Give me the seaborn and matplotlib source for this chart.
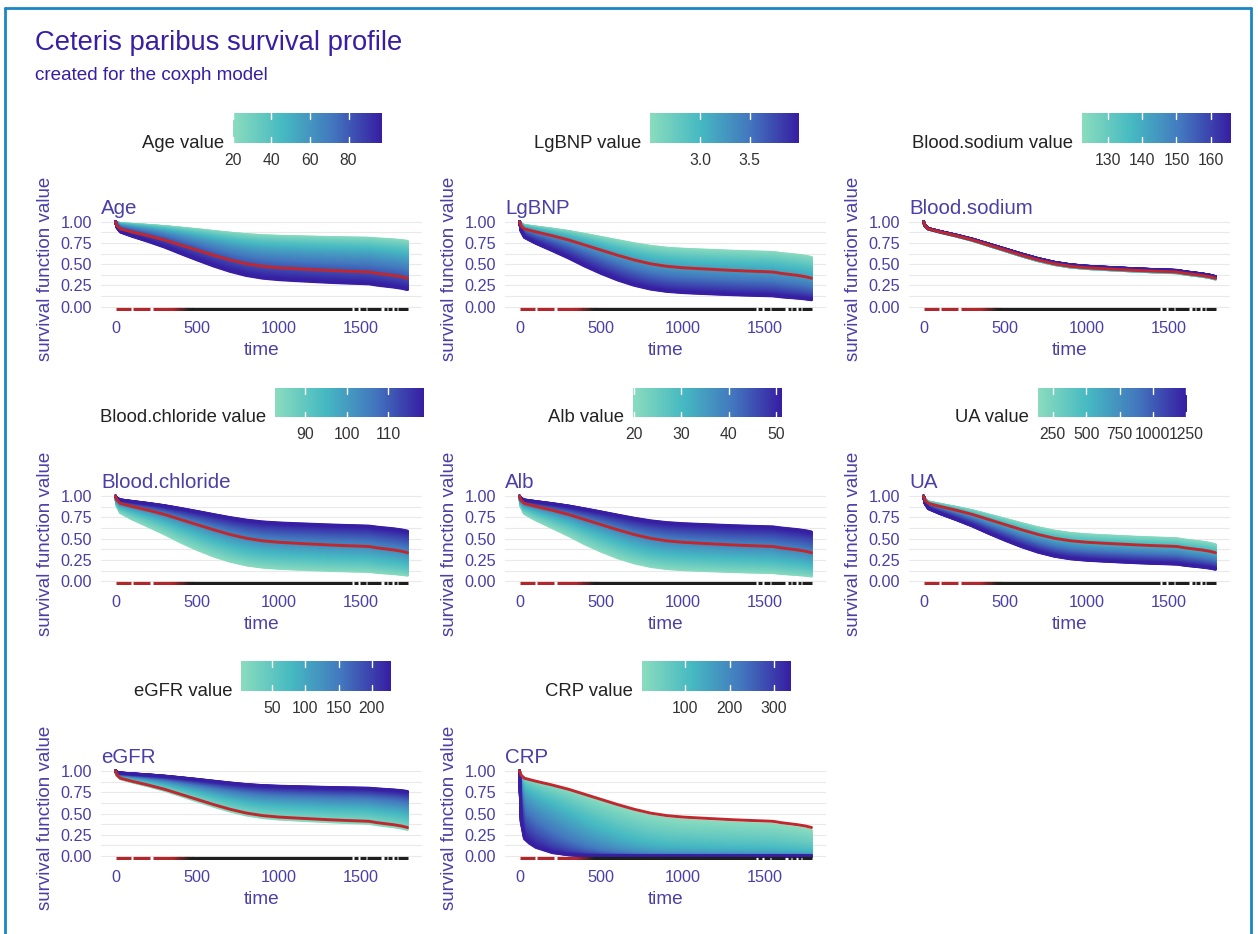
import numpy as np
import pandas as pd
import matplotlib
matplotlib.use("Agg")
import matplotlib.pyplot as plt
import seaborn as sns
from matplotlib.colors import LinearSegmentedColormap, to_rgb
from matplotlib.lines import Line2D

# ---------------- data ----------------
time_points = [0, 10, 30, 60, 100, 200, 300, 400, 500, 600, 700, 800, 900, 1000,
               1100, 1200, 1300, 1400, 1500, 1550, 1600, 1650, 1700, 1750, 1785]
baseline_surv = [1.000, 0.950, 0.915, 0.900, 0.880, 0.835, 0.785, 0.725, 0.665,
                 0.605, 0.550, 0.505, 0.475, 0.458, 0.447, 0.437, 0.427, 0.419,
                 0.412, 0.408, 0.392, 0.380, 0.368, 0.352, 0.335]

variables = ["Age", "LgBNP", "Blood.sodium", "Blood.chloride", "Alb", "UA", "eGFR", "CRP"]
value_min = [20.0, 2.49, 122.2, 82.8, 19.8, 141.0, 2.7, 2.0]
value_max = [97.2, 4.00, 165.9, 118.6, 51.4, 1258.0, 227.6, 338.0]
# relative hazard (exponent on the observation's survival curve) at min / max value
hr_at_min = [0.239, 0.498, 1.028, 2.43, 2.57, 0.772, 1.071, 1.10]
hr_at_max = [1.472, 2.31, 0.947, 0.482, 0.498, 1.80, 0.251, 18.0]
legend_ticks = [[20, 40, 60, 80], [3.0, 3.5], [130, 140, 150, 160], [90, 100, 110],
                [20, 30, 40, 50], [250, 500, 750, 1000, 1250], [50, 100, 150, 200],
                [100, 200, 300]]
legend_ticklabels = [["20", "40", "60", "80"], ["3.0", "3.5"], ["130", "140", "150", "160"],
                     ["90", "100", "110"], ["20", "30", "40", "50"],
                     ["250", "500", "750", "1000", "1250"], ["50", "100", "150", "200"],
                     ["100", "200", "300"]]
x_ticks = [0, 500, 1000, 1500]
y_ticks = [0.00, 0.25, 0.50, 0.75, 1.00]
y_ticklabels = ["0.00", "0.25", "0.50", "0.75", "1.00"]
rug_event_segments = [(5, 95), (108, 208), (228, 340)]
rug_censor_segments = [(470, 1445), (1455, 1485), (1495, 1530), (1540, 1625),
                       (1640, 1660), (1668, 1690), (1700, 1720), (1728, 1785)]
rug_mix_segment = (340, 470)

# ---------------- style ----------------
W, H = 1258, 934
sns.set_theme(style="white")
plt.rcParams["font.family"] = ["Liberation Sans", "DejaVu Sans"]
TITLE_C = "#371ea3"
AX_C = "#4a3fa6"
RED = "#c0282e"
cmap = LinearSegmentedColormap.from_list("drwhy", ["#8bdcbe", "#46bac2", "#4378bf", "#371ea3"])

fig = plt.figure(figsize=(W / 100, H / 100), dpi=100)
fig.patch.set_facecolor("white")

def fx(px):
    return px / W

def fy(py):
    return 1 - py / H

# border
bc = "#1b86c4"
fig.add_artist(Line2D([fx(5), fx(5)], [0, fy(7.5)], color=bc, lw=2.0))
fig.add_artist(Line2D([fx(5), fx(1251)], [fy(7.5), fy(7.5)], color=bc, lw=2.0))
fig.add_artist(Line2D([fx(1251), fx(1251)], [0, fy(7.5)], color=bc, lw=2.0))

fig.text(fx(35), fy(43), "Ceteris paribus survival profile", fontsize=19.7,
         color=TITLE_C, ha="left", va="center")
fig.text(fx(35), fy(75), "created for the coxph model", fontsize=13.6,
         color=TITLE_C, ha="left", va="center")

col_x0 = [115.5, 519.5, 923.5]          # pixel of time = 0
row_y1 = [221.7, 496.2, 771.0]          # pixel of survival = 1
px_per_t = 0.1636
px_per_s = 85.0
XLIM = (-89, 1874)
YLIM = (-0.05, 1.05)
bar_left = [232.7, 650.0, 1081.7, 275.0, 633.3, 1038.3, 241.0, 641.7]
bar_top = [113.3, 388.0, 661.3]
bar_w, bar_h = 149.0, 29.5

n_curves = 100
tarr = np.array(time_points, dtype=float)
sarr = np.array(baseline_surv, dtype=float)

for i, var in enumerate(variables):
    r, c = divmod(i, 3)
    left = col_x0[c] + XLIM[0] * px_per_t
    width = (XLIM[1] - XLIM[0]) * px_per_t
    top = row_y1[r] - (YLIM[1] - 1) * px_per_s
    height = (YLIM[1] - YLIM[0]) * px_per_s
    ax = fig.add_axes([fx(left), fy(top + height), width / W, height / H])

    vmin, vmax = value_min[i], value_max[i]
    vals = np.linspace(vmin, vmax, n_curves)
    frames = []
    for j, v in enumerate(vals):
        frac = (v - vmin) / (vmax - vmin)
        k = hr_at_min[i] * (hr_at_max[i] / hr_at_min[i]) ** frac
        frames.append(pd.DataFrame({"time": tarr, "surv": sarr ** k,
                                    "value": v, "curve": j}))
    df = pd.concat(frames, ignore_index=True)

    ax.set_yticks(y_ticks)
    ax.set_yticks([0.125, 0.375, 0.625, 0.875], minor=True)
    ax.grid(axis="y", which="both", color="#e9e9e9", lw=0.8, zorder=0)
    ax.grid(axis="x", visible=False)
    ax.set_axisbelow(True)

    sns.lineplot(data=df, x="time", y="surv", hue="value", units="curve",
                 estimator=None, palette=cmap, hue_norm=(vmin, vmax),
                 legend=False, linewidth=2.0, ax=ax, zorder=2)
    sns.lineplot(x=tarr, y=sarr, color=RED, linewidth=2.1, ax=ax, zorder=4)

    # rug of event / censoring times
    ry = -0.025
    for a, b in rug_event_segments:
        ax.plot([a, b], [ry, ry], color="#b0282c", lw=2.3, solid_capstyle="butt", zorder=5)
    a, b = rug_mix_segment
    edges = np.linspace(a, b, 9)
    c0, c1 = np.array(to_rgb("#b0282c")), np.array(to_rgb("#1e1e1e"))
    for m in range(len(edges) - 1):
        f = m / (len(edges) - 2)
        ax.plot([edges[m] - 4, edges[m + 1] + 4], [ry, ry], color=c0 * (1 - f) + c1 * f,
                lw=2.3, solid_capstyle="butt", zorder=5 + 0.01 * m)
    for a, b in rug_censor_segments:
        ax.plot([a, b], [ry, ry], color="#1e1e1e", lw=2.3, solid_capstyle="butt", zorder=5.2)

    ax.set_xlim(*XLIM)
    ax.set_ylim(*YLIM)
    ax.set_xticks(x_ticks)
    ax.set_xticklabels([str(t) for t in x_ticks])
    ax.set_yticklabels(y_ticklabels)
    ax.tick_params(axis="both", which="both", length=0, labelsize=11.7, labelcolor=AX_C)
    ax.tick_params(axis="x", pad=7.0)
    ax.tick_params(axis="y", pad=6.3)
    for s in ax.spines.values():
        s.set_visible(False)
    ax.set_facecolor("none")
    ax.set_xlabel("time", fontsize=13.7, color=AX_C, va="center")
    ax.xaxis.set_label_coords(0.5, -(350.5 - 311.0) / height)
    ax.set_ylabel("survival function value", fontsize=13.5, color=AX_C, va="center")
    ax.yaxis.set_label_coords((46 + (c * 404) - left) / width, 0.45)
    ax.text(0.0, (top + height - (row_y1[r] - 13.7)) / height,
            var, transform=ax.transAxes, fontsize=14.8, color=AX_C, ha="left", va="center")

    # colour bar legend
    bl = bar_left[i]
    bt = bar_top[r]
    cax = fig.add_axes([fx(bl), fy(bt + bar_h), bar_w / W, bar_h / H])
    grad = np.linspace(0, 1, 256)[None, :]
    cax.imshow(grad, aspect="auto", cmap=cmap, extent=[vmin, vmax, 0, 1])
    cax.set_xlim(vmin, vmax)
    cax.set_ylim(0, 1)
    for tv in legend_ticks[i]:
        cax.plot([tv, tv], [0, 0.2], color="white", lw=1.0)
        cax.plot([tv, tv], [0.8, 1], color="white", lw=1.0)
    cax.set_yticks([])
    cax.set_xticks(legend_ticks[i])
    cax.set_xticklabels(legend_ticklabels[i])
    cax.tick_params(axis="x", length=0, labelsize=11.3, labelcolor="#333333", pad=7)
    for s in cax.spines.values():
        s.set_visible(False)
    fig.text(fx(bl - 9), fy(bt + bar_h + 0.5), f"{var} value", fontsize=13.3,
             color="#222222", ha="right", va="center")

fig.savefig("out.png", dpi=100, facecolor="white")
